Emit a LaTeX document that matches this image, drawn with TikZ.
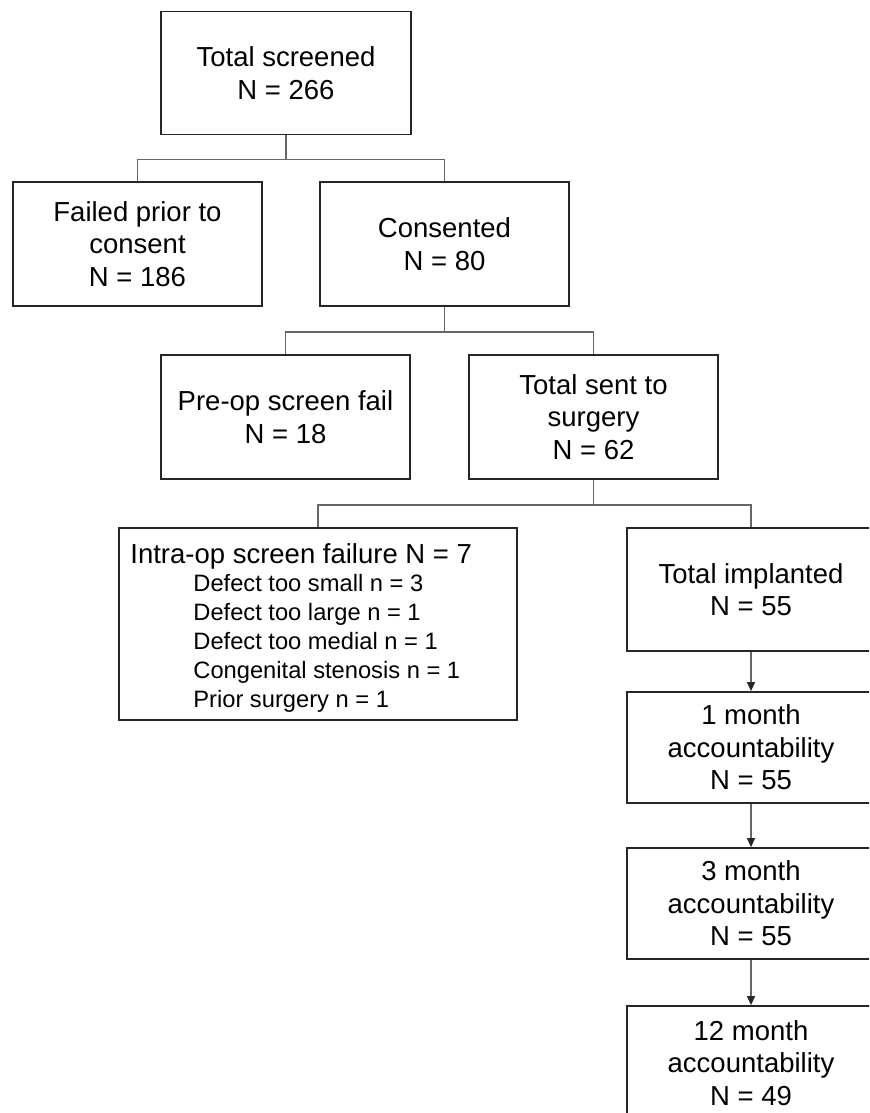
\documentclass[tikz,border=0pt]{standalone}
\usepackage{fontspec}
\setmainfont{Liberation Sans}
\usetikzlibrary{arrows.meta}
\begin{document}
\begin{tikzpicture}[x=0.5pt,y=-0.5pt,
  box/.style={draw=black!85, line width=0.9pt, rectangle, inner sep=0pt, align=center,
    font=\fontsize{13.75}{16.25}\selectfont, text=black},
  conn/.style={draw=black!60, line width=0.6pt},
  arr/.style={conn, -{Triangle[length=4.5pt,width=4pt,color=black!85]}},
  subitem/.style={anchor=base west, inner sep=0pt, font=\fontsize{11.85}{14.5}\selectfont},
  mainline/.style={anchor=base west, inner sep=0pt, font=\fontsize{13.75}{16.25}\selectfont}]
\useasboundingbox (0,0) rectangle (869,1113);
\fill[white] (0,0) rectangle (869,1113);
\clip (0,0) rectangle (869,1113);

\node[box, minimum width=125pt, minimum height=61.5pt] (ts) at (286,73) {Total screened\\N = 266};
\path (ts.north) ++(0,-1.5) coordinate (tstop);
\node[box, minimum width=124.5pt, minimum height=62pt] (fail) at (137.5,244) {Failed prior to\\consent\\N = 186};
\node[box, minimum width=124.5pt, minimum height=62pt] (cons) at (444.5,244) {Consented\\N = 80};
\node[box, minimum width=124.5pt, minimum height=62pt] (pre) at (285.5,417) {Pre-op screen fail\\N = 18};
\node[box, minimum width=124.5pt, minimum height=62pt] (surg) at (593.5,417) {Total sent to\\surgery\\N = 62};
\node[box, minimum width=199pt, minimum height=96pt] (intra) at (318,624) {};
\node[mainline] (intraT) at (130,563) {Intra-op screen failure N = 7};
\node[subitem] (d1) at (193,591) {Defect too small n = 3};
\node[subitem] (d2) at (193,620) {Defect too large n = 1};
\node[subitem] (d3) at (193,649) {Defect too medial n = 1};
\node[subitem] (d4) at (193,678) {Congenital stenosis n = 1};
\node[subitem] (d5) at (193,707) {Prior surgery n = 1};
\node[box, minimum width=124pt, minimum height=61.5pt] (impl) at (751,589.5) {Total implanted\\N = 55};
\node[box, minimum width=124pt, minimum height=55.5pt] (m1) at (751,747.5) {1 month\\accountability\\N = 55};
\node[box, minimum width=124pt, minimum height=55.5pt] (m3) at (751,903.5) {3 month\\accountability\\N = 55};
\node[box, minimum width=124pt, minimum height=57pt] (m12) at (751,1063) {12 month\\accountability\\N = 49};

\draw[conn] (ts.south) -- ++(0,24) coordinate (j1);
\draw[conn] (fail.north) |- (j1) -| (cons.north);
\draw[conn] (cons.south) -- ++(0,25) coordinate (j2);
\draw[conn] (pre.north) |- (j2) -| (surg.north);
\draw[conn] (surg.south) -- ++(0,25) coordinate (j3);
\draw[conn] (intra.north) |- (j3) -| (impl.north);
\draw[arr] (impl.south) -- (m1.north);
\draw[arr] (m1.south) -- (m3.north);
\draw[arr] (m3.south) -- (m12.north);
\end{tikzpicture}
\end{document}
